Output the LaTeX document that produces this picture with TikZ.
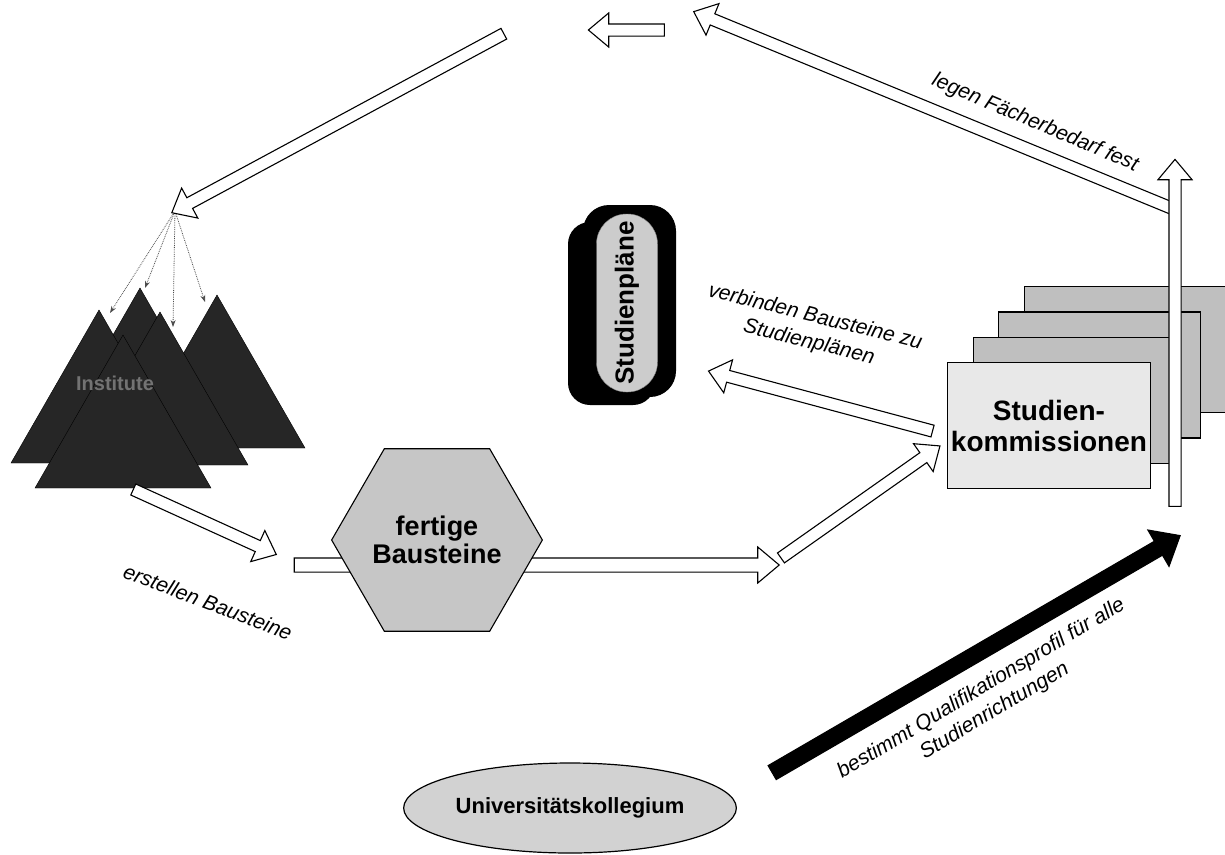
\documentclass[tikz,border=0pt]{standalone}
\usepackage{fontspec}
\setmainfont{Liberation Sans}
\usetikzlibrary{shapes.geometric,shapes.arrows,arrows.meta,calc}

\tikzset{
  hollow/.style={single arrow, draw=black, fill=white, line width=1.1pt, inner xsep=0pt,
    inner ysep=5.5pt, text height=0pt, text depth=0pt, single arrow head extend=11pt,
    single arrow tip angle=80},
  solidarr/.style={hollow, fill=black, inner ysep=7.5pt, single arrow head extend=13pt},
  arrlabel/.style={font=\fontsize{21}{26}\selectfont\itshape, align=center, inner sep=0pt},
  boldtxt/.style={font=\fontsize{27}{28}\selectfont\bfseries, align=center},
  komm/.style={draw=black, line width=1.2pt, minimum width=202pt, minimum height=126pt, fill=gray!50},
  tri/.style={fill=black!85, draw=black},
  fanarrow/.style={densely dotted, gray!60!black, line width=0.8pt, -{Stealth[length=7pt,width=5pt]}},
}
\newcommand{\blockarr}[3][hollow]{%
  \path let \p1=(#2), \p2=(#3), \n1={atan2(\y2-\y1,\x2-\x1)}, \n2={veclen(\x2-\x1,\y2-\y1)} in
    node[#1, rotate=\n1, minimum height=\n2] at ($(#2)!0.5!(#3)$) {};}

\begin{document}
\begin{tikzpicture}[x=1pt,y=-1pt]
\useasboundingbox (0,0) rectangle (1225,854);

% Institute (triangles)
\coordinate (t1) at (217,295);
\coordinate (t2) at (140,288);
\coordinate (t3) at (160,312);
\coordinate (t4) at (99,310);
\coordinate (t5) at (123,335);
\foreach \t in {t1,t2,t3,t4,t5}
  \fill[tri] (\t) -- ++(-88,153) -- ++(176,0) -- cycle;
\node[font=\fontsize{20}{22}\selectfont\bfseries, text=black!55] (inst) at (115,383) {Institute};

\coordinate (fan) at (175,211);
\draw[fanarrow] (fan) -- (110,313);
\draw[fanarrow] (fan) -- (145,288);
\draw[fanarrow] (fan) -- (173,327);
\draw[fanarrow] (fan) -- (205,302);

% arrows round the top
\coordinate (top0) at (1176,210);
\coordinate (top1) at (697,13);
\coordinate (top2) at (668,30);
\coordinate (top3) at (592,30);
\coordinate (top4) at (507,32);
\blockarr{top0}{top1}
\blockarr{top2}{top3}
\blockarr{top4}{fan}
\node[arrlabel, rotate=-23] (lfach) at (1035,123) {legen Fächerbedarf fest};

% Studienplaene
\fill[black, rounded corners=22pt] (568,222) rectangle (655,405);
\fill[black, rounded corners=26pt] (583,205) rectangle (676,397);
\node[draw=gray, fill=gray!40, rounded corners=30pt, minimum width=178pt, minimum height=61pt,
  rotate=90, boldtxt, font=\fontsize{26}{28}\selectfont\bfseries] (plaene) at (627,303) {Studienpläne};

% Studienkommissionen
\foreach \i in {3,2,1}
  \node[komm, anchor=north west] (k\i) at (947+25.6*\i, 362-25.3*\i) {};
\node[komm, fill=gray!18, anchor=north west, boldtxt, font=\fontsize{28}{31}\selectfont\bfseries]
  (komm) at (947,362) {Studien-\\kommissionen};
\coordinate (up0) at (1175,510);
\coordinate (up1) at (1175,163);
\blockarr{up0}{up1}

% Bausteine
\coordinate (erst0) at (130,488);
\coordinate (erst1) at (273,553);
\blockarr{erst0}{erst1}
\node[arrlabel, rotate=-21] (lerst) at (208,602) {erstellen Bausteine};
\coordinate (bar0) at (290,565);
\coordinate (bar1) at (775,565);
\blockarr[hollow, inner ysep=6.5pt]{bar0}{bar1}
\node[regular polygon, regular polygon sides=6, minimum size=177pt, inner sep=0pt, draw=black,
  line width=1.1pt, fill=gray!45, boldtxt] (baust) at (437,540) {fertige\\Bausteine};

\coordinate (diag0) at (778,560);
\coordinate (diag1) at (937,448);
\blockarr{diag0}{diag1}
\coordinate (verb0) at (936,432);
\coordinate (verb1) at (712,372);
\blockarr{verb0}{verb1}
\node[arrlabel, rotate=-14] (lverb) at (812,330) {verbinden Bausteine zu\\Studienplänen};

% Universitaetskollegium
\node[ellipse, draw=black, line width=1.2pt, fill=gray!35, minimum width=310pt, minimum height=90pt,
  boldtxt, font=\fontsize{22}{24}\selectfont\bfseries] (uni) at (570,808) {Universitätskollegium};
\coordinate (best0) at (768,775);
\coordinate (best1) at (1176,538);
\blockarr[solidarr]{best0}{best1}
\node[arrlabel, rotate=31] (lbest) at (988,700) {bestimmt Qualifikationsprofil für alle\\Studienrichtungen};
\end{tikzpicture}
\end{document}
